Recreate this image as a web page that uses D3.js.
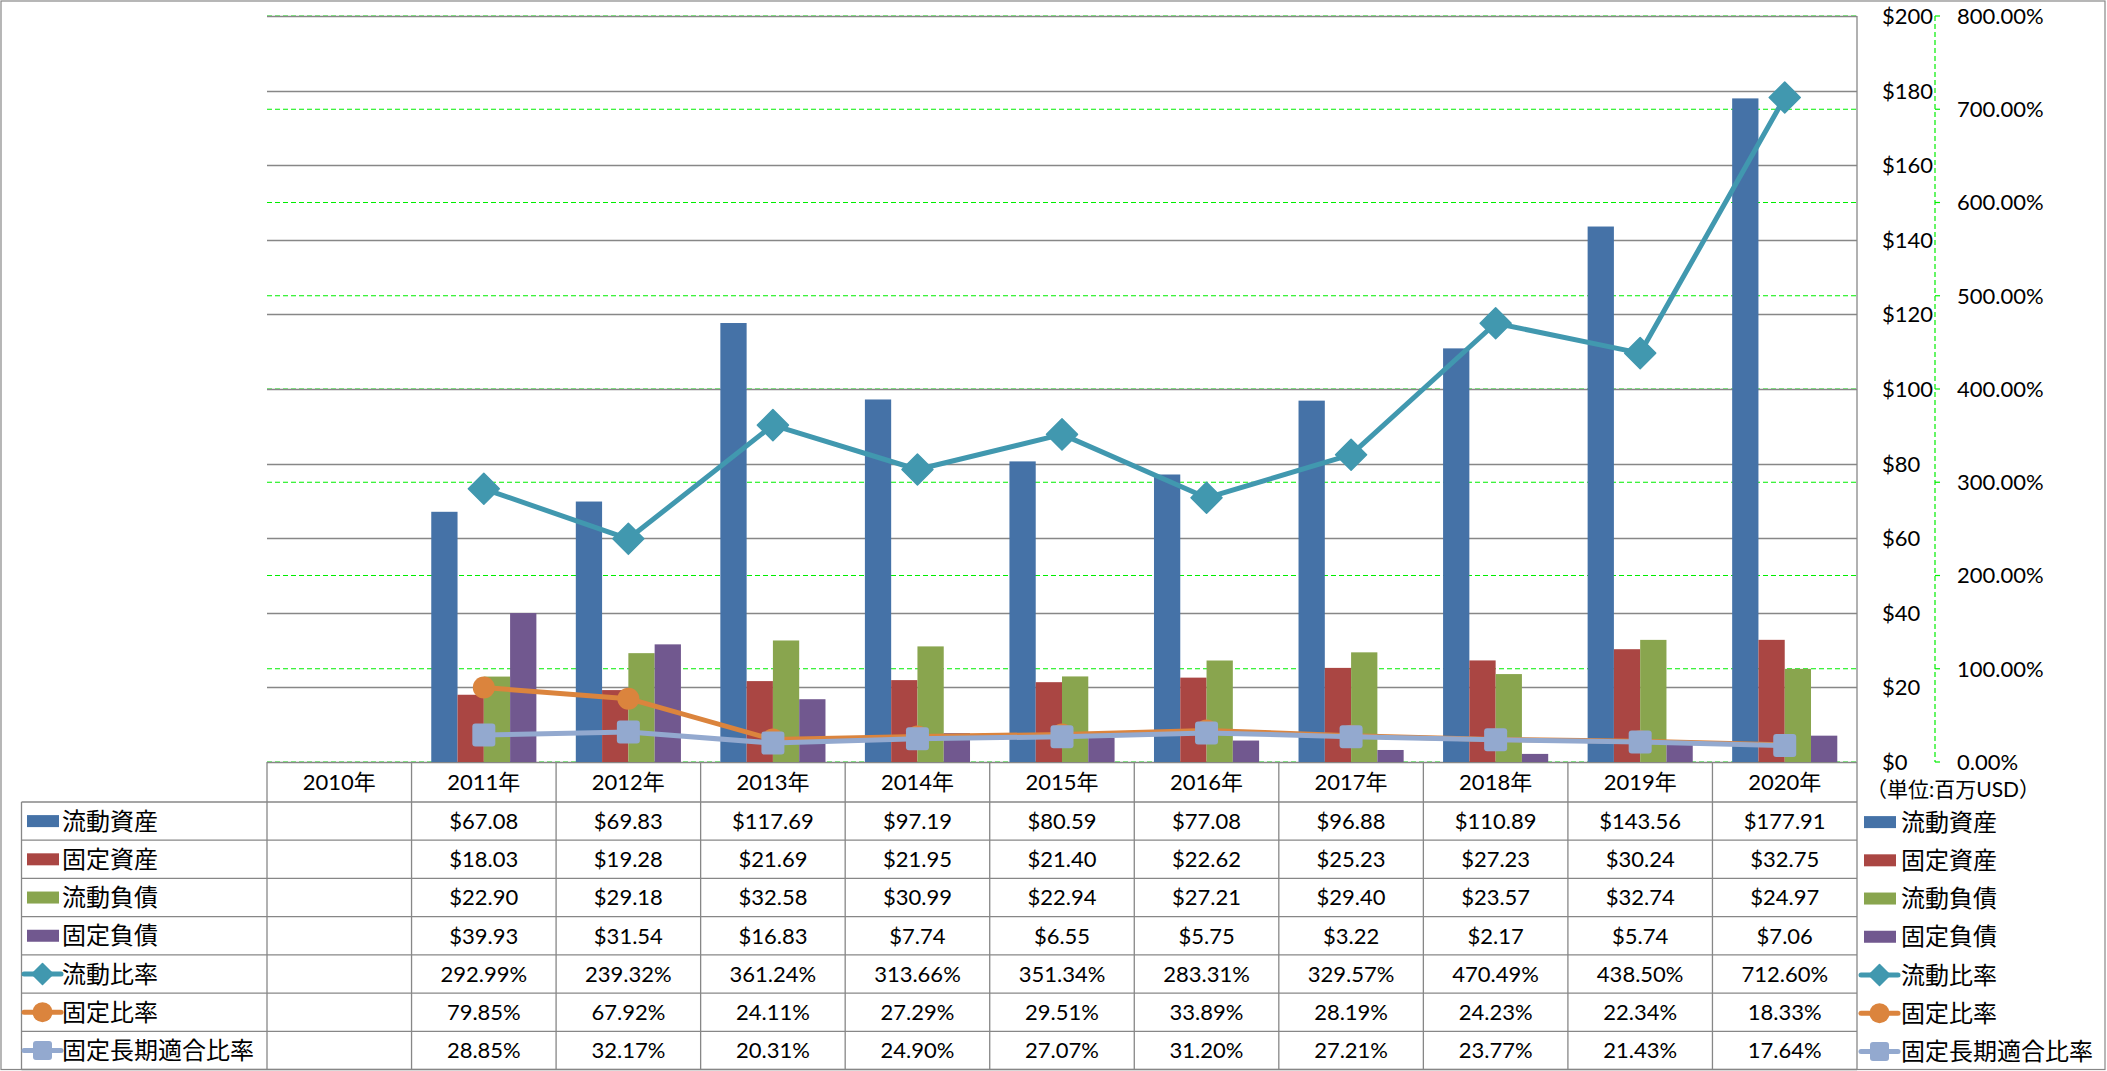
<!DOCTYPE html>
<html><head><meta charset="utf-8">
<script src="https://cdn.jsdelivr.net/npm/d3@7"></script>
<style>
body{margin:0;background:#fff}
svg{display:block}
text{font-family:Lato,"Noto Sans CJK JP",sans-serif;fill:#000}
</style>
</head><body>
<svg id="c" width="2107" height="1071"></svg>
<script>
// ---- data ----
const years = ["2010年","2011年","2012年","2013年","2014年","2015年","2016年","2017年","2018年","2019年","2020年"];
const currentAssets = [null,67.08,69.83,117.69,97.19,80.59,77.08,96.88,110.89,143.56,177.91];
const fixedAssets   = [null,18.03,19.28,21.69,21.95,21.40,22.62,25.23,27.23,30.24,32.75];
const currentLiab   = [null,22.90,29.18,32.58,30.99,22.94,27.21,29.40,23.57,32.74,24.97];
const fixedLiab     = [null,39.93,31.54,16.83,7.74,6.55,5.75,3.22,2.17,5.74,7.06];
const currentRatio  = [null,292.99,239.32,361.24,313.66,351.34,283.31,329.57,470.49,438.50,712.60];
const fixedRatio    = [null,79.85,67.92,24.11,27.29,29.51,33.89,28.19,24.23,22.34,18.33];
const fixedLTRatio  = [null,28.85,32.17,20.31,24.90,27.07,31.20,27.21,23.77,21.43,17.64];
const barNames  = ["流動資産","固定資産","流動負債","固定負債"];
const lineNames = ["流動比率","固定比率","固定長期適合比率"];
const dollarTicks = [0,20,40,60,80,100,120,140,160,180,200];
const pctTicks = [0,100,200,300,400,500,600,700,800];
const unitLabel = "（単位:百万USD）";

const barColors  = ["#4572A7","#AA4643","#89A54E","#71588F"];
const lineColors = ["#4198AF","#DB843D","#93A9CF"];
const barSeries  = [currentAssets, fixedAssets, currentLiab, fixedLiab];
const lineSeries = [currentRatio, fixedRatio, fixedLTRatio];
const markerTypes = ["diamond","circle","square"];

// ---- layout ----
const L = 267, R = 1857, T = 16, B = 762;
const tableLeft = 21.5, headerBottom = 802, tableBottom = 1069.5;
const rowH = (tableBottom - headerBottom) / 7;
const gridColor = "#878787";

const svg = d3.select("#c");
svg.append("rect").attr("x",1).attr("y",1).attr("width",2104).attr("height",1068.5)
  .attr("fill","#fff").attr("stroke",gridColor).attr("stroke-width",1.2);

const x = d3.scaleBand().domain(years).range([L, R]).padding(0);
const bw = x.bandwidth();
const x1 = d3.scaleBand().domain(barNames).range([0, bw]).paddingInner(0).paddingOuter(0.75);
const y = d3.scaleLinear().domain([0, 200]).range([B, T]);
const y2 = d3.scaleLinear().domain([0, 800]).range([B, T]);

// green dashed secondary gridlines
svg.append("g").selectAll("line").data(pctTicks).join("line")
  .attr("x1", L).attr("x2", R).attr("y1", d => y2(d)).attr("y2", d => y2(d))
  .attr("stroke", "#00ee00").attr("stroke-width", 1.2).attr("stroke-dasharray", "5,3");

// gray primary gridlines
svg.append("g").selectAll("line").data(dollarTicks).join("line")
  .attr("x1", L).attr("x2", R).attr("y1", d => Math.round(y(d)) + 0.5).attr("y2", d => Math.round(y(d)) + 0.5)
  .attr("stroke", gridColor).attr("stroke-width", 1.3);

// primary axis line (right side of plot)
svg.append("line").attr("x1", R).attr("x2", R).attr("y1", T).attr("y2", B)
  .attr("stroke", gridColor).attr("stroke-width", 1.3);

// bars
barSeries.forEach((vals, si) => {
  svg.append("g").selectAll("rect").data(years.map((yr, i) => ({yr, v: vals[i]})).filter(d => d.v != null))
    .join("rect")
    .attr("x", d => x(d.yr) + x1(barNames[si]))
    .attr("width", x1.bandwidth())
    .attr("y", d => y(d.v))
    .attr("height", d => B - y(d.v))
    .attr("fill", barColors[si]);
});

// markers
function marker(g, type, cx, cy, size, color) {
  if (type === "diamond") {
    const h = size / 2;
    g.append("path").attr("d", `M${cx},${cy-h}L${cx+h},${cy}L${cx},${cy+h}L${cx-h},${cy}Z`)
      .attr("fill", color).attr("stroke", color).attr("stroke-width", 1.5).attr("stroke-linejoin","round");
  } else if (type === "circle") {
    g.append("circle").attr("cx", cx).attr("cy", cy).attr("r", size / 2).attr("fill", color);
  } else {
    g.append("rect").attr("x", cx - size/2).attr("y", cy - size/2).attr("width", size).attr("height", size)
      .attr("rx", 3).attr("fill", color);
  }
}
const markerSizes = [31, 22, 23];
const keyMarkerSizes = [21, 20, 19];

// lines
lineSeries.forEach((vals, si) => {
  const pts = years.map((yr, i) => ({yr, v: vals[i]})).filter(d => d.v != null);
  const line = d3.line().x(d => x(d.yr) + bw / 2).y(d => y2(d.v));
  const g = svg.append("g");
  g.append("path").datum(pts).attr("d", line).attr("fill", "none")
    .attr("stroke", lineColors[si]).attr("stroke-width", 5).attr("stroke-linejoin", "round");
  pts.forEach(d => marker(g, markerTypes[si], x(d.yr) + bw / 2, y2(d.v), markerSizes[si], lineColors[si]));
});

// secondary axis (green dashed)
const ax2 = svg.append("g");
ax2.append("line").attr("x1", 1935).attr("x2", 1935).attr("y1", T).attr("y2", B)
  .attr("stroke", "#00ee00").attr("stroke-width", 1.2).attr("stroke-dasharray", "5,3");
ax2.selectAll("line.t").data(pctTicks).join("line").attr("class","t")
  .attr("x1", 1935).attr("x2", 1940).attr("y1", d => y2(d)).attr("y2", d => y2(d))
  .attr("stroke", "#00ee00").attr("stroke-width", 1.2);
ax2.selectAll("text").data(pctTicks).join("text")
  .attr("x", 1957).attr("y", d => y2(d)).attr("dy", "0.36em")
  .attr("font-size", 22).text(d => d3.format(".2f")(d) + "%");

// primary axis labels
svg.append("g").selectAll("text").data(dollarTicks).join("text")
  .attr("x", 1882).attr("y", d => y(d)).attr("dy", "0.36em")
  .attr("font-size", 22).text(d => "$" + d);

svg.append("text").attr("x", 1866).attr("y", 789).attr("dy", "0.36em")
  .attr("font-size", 21).attr("fill", "#222").text(unitLabel);

// ---- data table ----
const tg = svg.append("g");
const tl = (x1_, y1_, x2_, y2_) => tg.append("line").attr("x1", x1_).attr("y1", y1_).attr("x2", x2_).attr("y2", y2_)
  .attr("stroke", gridColor).attr("stroke-width", 1.3);
// verticals
years.forEach(yr => tl(x(yr), B, x(yr), tableBottom));
tl(R, B, R, tableBottom);
tl(tableLeft, headerBottom, tableLeft, tableBottom);
// horizontals
for (let r = 0; r <= 7; r++) {
  const yy = headerBottom + r * rowH;
  tl(tableLeft, yy, R, yy);
}
// header
tg.selectAll("text.h").data(years).join("text").attr("class","h")
  .attr("x", d => x(d) + bw / 2).attr("y", (B + headerBottom) / 2).attr("dy", "0.36em")
  .attr("text-anchor", "middle").attr("font-size", 22).text(d => d);

const fmtD = v => v == null ? "" : "$" + d3.format(".2f")(v);
const fmtP = v => v == null ? "" : d3.format(".2f")(v) + "%";
const rows = [
  ...barSeries.map((vals, i) => ({name: barNames[i], vals, fmt: fmtD, kind: "bar", color: barColors[i]})),
  ...lineSeries.map((vals, i) => ({name: lineNames[i], vals, fmt: fmtP, kind: markerTypes[i], color: lineColors[i], ms: keyMarkerSizes[i]}))
];

function key(g, row, x0, cy) {
  if (row.kind === "bar") {
    g.append("rect").attr("x", x0 + 3).attr("y", cy - 6).attr("width", 32).attr("height", 12).attr("fill", row.color);
  } else {
    g.append("line").attr("x1", x0).attr("x2", x0 + 37).attr("y1", cy).attr("y2", cy)
      .attr("stroke", row.color).attr("stroke-width", 5).attr("stroke-linecap", "round");
    marker(g, row.kind, x0 + 18.5, cy, row.ms, row.color);
  }
}

rows.forEach((row, r) => {
  const cy = headerBottom + r * rowH + rowH / 2;
  key(tg, row, 24, cy);
  tg.append("text").attr("x", 62).attr("y", cy).attr("dy", "0.36em").attr("font-size", 24).text(row.name);
  tg.selectAll(null).data(years.map((yr, i) => ({yr, v: row.vals[i]}))).join("text")
    .attr("x", d => x(d.yr) + bw / 2).attr("y", cy).attr("dy", "0.36em")
    .attr("text-anchor", "middle").attr("font-size", 22).text(d => row.fmt(d.v));
  // right legend
  key(tg, row, 1861, cy + 1);
  tg.append("text").attr("x", 1901).attr("y", cy + 1).attr("dy", "0.36em").attr("font-size", 24).text(row.name);
});
</script>
</body></html>
